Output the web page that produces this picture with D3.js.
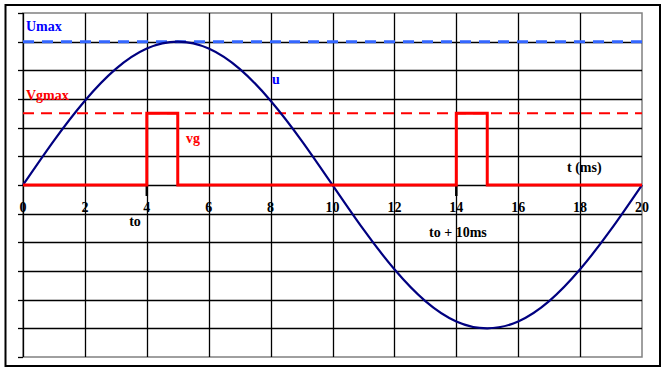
<!DOCTYPE html>
<html>
<head>
<meta charset="utf-8">
<script src="https://cdn.jsdelivr.net/npm/d3@7"></script>
<style>
  body { margin: 0; background: #fff; }
  text { font-family: "Liberation Serif", "DejaVu Serif", serif; font-weight: bold; }
</style>
</head>
<body>
<svg id="chart"></svg>
<script>
// time axis (ms) and tick labels
var xTicks = [0, 2, 4, 6, 8, 10, 12, 14, 16, 18, 20];
var yTicks = [-6, -5, -4, -3, -2, -1, 0, 1, 2, 3, 4, 5, 6];

// u(t), one point per ms
var uTime = [0, 1, 2, 3, 4, 5, 6, 7, 8, 9, 10, 11, 12, 13, 14, 15, 16, 17, 18, 19, 20];
var uVals = [0, 1.55, 2.94, 4.05, 4.76, 5, 4.76, 4.05, 2.94, 1.55, 0,
             -1.55, -2.94, -4.05, -4.76, -5, -4.76, -4.05, -2.94, -1.55, 0];

// vg(t) gate pulses
var vgTime = [0, 4, 4, 5, 5, 14, 14, 15, 15, 20];
var vgVals = [0, 0, 2.5, 2.5, 0, 0, 2.5, 2.5, 0, 0];

var uMax = 5, vgMax = 2.5;
var markers = [4, 14];

var W = 666, H = 371;
var svg = d3.select("#chart").attr("width", W).attr("height", H);

var x = d3.scaleLinear().domain([0, 20]).range([23, 642]);
var y = d3.scaleLinear().domain([-6, 6]).range([357, 13]);

// outer frame
svg.append("rect")
    .attr("x", 5.5).attr("y", 5).attr("width", 654.5).attr("height", 361)
    .attr("fill", "none").attr("stroke", "#000").attr("stroke-width", 2);

// plot border
svg.append("rect")
    .attr("x", x(0)).attr("y", y(6)).attr("width", x(20) - x(0)).attr("height", y(-6) - y(6))
    .attr("fill", "none").attr("stroke", "#808080").attr("stroke-width", 1.5);

// horizontal grid (with little ticks on the left)
svg.selectAll(".hgrid")
    .data(yTicks.filter(d => d > -6 && d < 6))
    .enter().append("line")
    .attr("x1", x(0)).attr("x2", x(20))
    .attr("y1", d => Math.round(y(d)) + 0.5).attr("y2", d => Math.round(y(d)) + 0.5)
    .attr("stroke", "#000").attr("stroke-width", 1.3);

svg.selectAll(".ytick")
    .data(yTicks)
    .enter().append("line")
    .attr("x1", x(0) - 5).attr("x2", x(0))
    .attr("y1", d => Math.round(y(d)) + 0.5).attr("y2", d => Math.round(y(d)) + 0.5)
    .attr("stroke", "#000").attr("stroke-width", 1.3);

// vertical grid
svg.selectAll(".vgrid")
    .data(xTicks.filter(d => d < 20))
    .enter().append("line")
    .attr("x1", d => Math.round(x(d)) + 0.5).attr("x2", d => Math.round(x(d)) + 0.5)
    .attr("y1", y(6)).attr("y2", y(-6))
    .attr("stroke", "#000").attr("stroke-width", 1.3);

// x tick labels
svg.selectAll(".xlab")
    .data(xTicks)
    .enter().append("text")
    .attr("x", d => x(d)).attr("y", y(0) + 27)
    .attr("text-anchor", "middle")
    .attr("font-size", 14)
    .text(d => d);

// Umax / Vgmax dashed lines
svg.append("line")
    .attr("x1", x(0)).attr("x2", x(20)).attr("y1", y(uMax)).attr("y2", y(uMax))
    .attr("stroke", "#3366ff").attr("stroke-width", 3)
    .attr("stroke-dasharray", "11,8");

svg.append("line")
    .attr("x1", x(0)).attr("x2", x(20)).attr("y1", y(vgMax)).attr("y2", y(vgMax))
    .attr("stroke", "#ff0000").attr("stroke-width", 2)
    .attr("stroke-dasharray", "11,7");

// t0 markers
svg.selectAll(".mark")
    .data(markers)
    .enter().append("line")
    .attr("x1", d => x(d)).attr("x2", d => x(d))
    .attr("y1", y(0)).attr("y2", y(0) + 11)
    .attr("stroke", "#000").attr("stroke-width", 2.5);

// u(t)
var uLine = d3.line()
    .x((d, i) => x(uTime[i]))
    .y(d => y(d))
    .curve(d3.curveNatural);

svg.append("path")
    .datum(uVals)
    .attr("d", uLine)
    .attr("fill", "none")
    .attr("stroke", "#000080")
    .attr("stroke-width", 2.2);

// vg(t)
var vgLine = d3.line()
    .x((d, i) => x(vgTime[i]))
    .y(d => y(d));

svg.append("path")
    .datum(vgVals)
    .attr("d", vgLine)
    .attr("fill", "none")
    .attr("stroke", "#ff0000")
    .attr("stroke-width", 3);

// labels
function label(txt, px, py, col, anchor) {
    svg.append("text")
        .attr("x", px).attr("y", py)
        .attr("fill", col)
        .attr("font-size", 14)
        .attr("text-anchor", anchor || "start")
        .text(txt);
}
label("Umax", 26, 31, "#0000ff");
label("Vgmax", 26, 100, "#ff0000");
label("u", 272, 84, "#0000ff");
label("vg", 186, 143, "#ff0000");
label("t (ms)", 567, 172, "#000");
label("to", 135, 226, "#000", "middle");
label("to + 10ms", 429, 237, "#000");
</script>
</body>
</html>
